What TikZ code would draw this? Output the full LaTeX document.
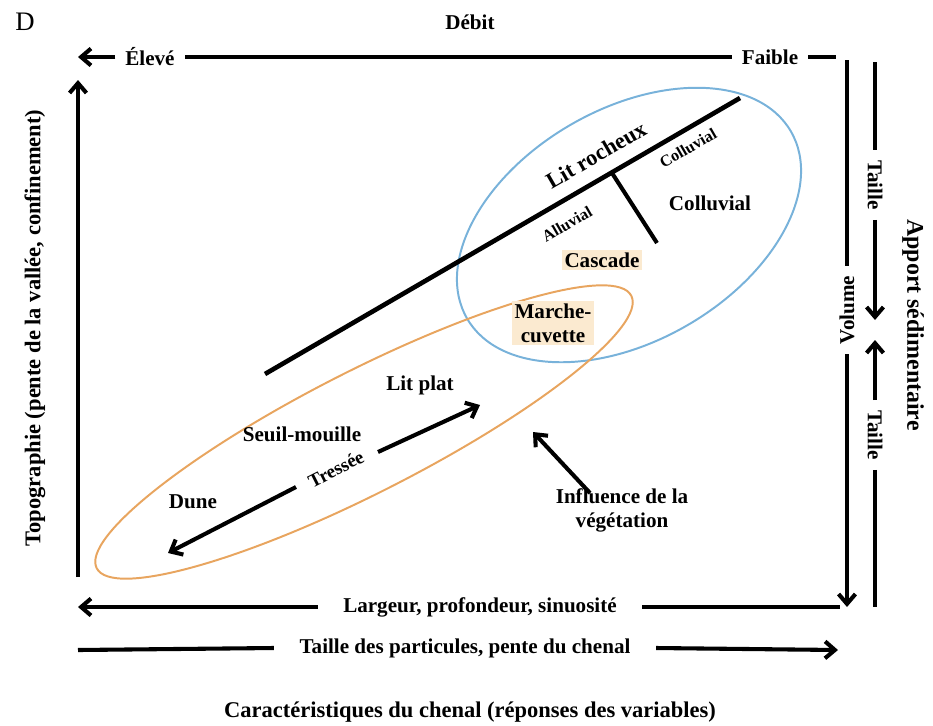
\documentclass[tikz,border=0pt]{standalone}
\usepackage{fontspec}
\setmainfont{Liberation Serif}
\usetikzlibrary{arrows.meta}
\definecolor{bluering}{RGB}{120,178,218}
\definecolor{orangering}{RGB}{232,165,95}
\definecolor{peach}{RGB}{251,234,208}
\begin{document}
\begin{tikzpicture}[
  x=0.025cm, y=-0.025cm,
  >={Straight Barb[length=7pt,width=12pt]},
  bar/.style={draw=black,line width=2.9pt},
  flow/.style={bar,->},
  ring/.style={line width=1.4pt},
  lbl/.style={font=\bfseries\fontsize{15}{17}\selectfont,inner sep=1pt,inner xsep=7pt},
  big/.style={lbl,font=\bfseries\fontsize{16}{18}\selectfont},
  wide/.style={lbl,inner xsep=18pt},
  smalltxt/.style={font=\bfseries\fontsize{11.5}{12}\selectfont,inner sep=0pt},
  tag/.style={lbl,fill=peach,inner sep=2pt}
]
  \useasboundingbox (0,0) rectangle (933,725);

  % titles
  \node[font=\fontsize{19}{21}\selectfont] (panel) at (25,22) {D};
  \node[lbl] (debit) at (470,22) {Débit};
  \node[big] (chenal) at (470,712) {Caractéristiques du chenal (réponses des variables)};
  \node[big,rotate=90] (topo) at (35,328) {Topographie (pente de la vallée, confinement)};
  \node[big,font=\bfseries\fontsize{17}{19}\selectfont,rotate=-90] (apport) at (913,325) {Apport sédimentaire};

  % debit
  \node[lbl] (eleve) at (150,57) {Élevé};
  \node[lbl] (faible) at (770,57) {Faible};
  \coordinate (eleveTip) at (78,57);
  \coordinate (faibleEnd) at (836,57);
  \draw[flow] (eleve.west) -- (eleveTip);
  \draw[bar] (faible.west) -- (eleve.east);
  \draw[bar] (faible.east) -- (faibleEnd);

  % volume and taille
  \node[lbl,rotate=90] (volume) at (847,310) {Volume};
  \coordinate (volTop) at (847,60);
  \coordinate (volTip) at (847,607);
  \draw[bar] (volTop) -- (volume.east);
  \draw[flow] (volume.west) -- (volTip);

  \node[lbl,rotate=-90] (tailleA) at (875,185) {Taille};
  \coordinate (tailleAtop) at (875,62);
  \coordinate (tailleAtip) at (875,320);
  \draw[bar] (tailleAtop) -- (tailleA.west);
  \draw[flow] (tailleA.east) -- (tailleAtip);

  \node[lbl,rotate=-90] (tailleB) at (875,435) {Taille};
  \coordinate (tailleBtip) at (875,340);
  \coordinate (tailleBend) at (875,607);
  \draw[flow] (tailleB.west) -- (tailleBtip);
  \draw[bar] (tailleB.east) -- (tailleBend);

  % channel axes
  \node[wide] (largeur) at (480,607) {Largeur, profondeur, sinuosité};
  \coordinate (largeurTip) at (78,607);
  \coordinate (largeurEnd) at (840,607);
  \draw[flow] (largeur.west) -- (largeurTip);
  \draw[bar] (largeur.east) -- (largeurEnd);

  \node[wide] (particules) at (465,648) {Taille des particules, pente du chenal};
  \coordinate (particulesStart) at (78,650);
  \coordinate (particulesTip) at (838,650);
  \draw[bar] (particulesStart) -- (particules.west);
  \draw[flow] (particules.east) -- (particulesTip);

  \coordinate (topoStart) at (78,577);
  \coordinate (topoTip) at (78,80);
  \draw[flow] (topoStart) -- (topoTip);

  % rings
  \draw[bluering,ring,rotate around={30:(629,225)}] (629,225) ellipse (187 and 116);
  \draw[orangering,ring,rotate around={27:(364,432)}] (364,432) ellipse (300 and 61);

  % lit rocheux
  \coordinate (rockLow) at (265,374);
  \coordinate (rockHigh) at (740,98);
  \coordinate (rockFork) at (612,173);
  \coordinate (rockFoot) at (657,243);
  \draw[bar,line width=3.3pt] (rockLow) -- (rockHigh);
  \draw[bar] (rockFork) -- (rockFoot);

  \node[big,inner xsep=0pt,inner ysep=0pt,rotate=30] (litroc) at (596,155) {Lit rocheux};
  \node[smalltxt,rotate=30] (colluvA) at (688,148) {Colluvial};
  \node[smalltxt,rotate=30] (alluv) at (567,224) {Alluvial};
  \node[lbl] (colluvB) at (710,203) {Colluvial};
  \node[tag] (cascade) at (602,260) {Cascade};
  \node[tag,align=center] (marche) at (553,323) {Marche-\\cuvette};

  % alluvial forms
  \node[lbl] (litplat) at (420,385) {Lit plat};
  \node[lbl] (seuil) at (302,434) {Seuil-mouille};
  \node[lbl,inner xsep=0pt,inner ysep=0pt,font=\bfseries\fontsize{13.5}{15}\selectfont,rotate=27] (tressee) at (336,469) {Tressée};
  \node[lbl] (dune) at (193,502) {Dune};
  \coordinate (braidUp) at (378,452);
  \coordinate (braidUpTip) at (480,405);
  \coordinate (braidDown) at (296,487);
  \coordinate (braidDownTip) at (168,553);
  \draw[flow] (braidUp) -- (braidUpTip);
  \draw[flow] (braidDown) -- (braidDownTip);

  \node[lbl,align=center] (vegetation) at (622,510) {Influence de la\\végétation};
  \coordinate (vegTail) at (590,493);
  \coordinate (vegTip) at (533,432);
  \draw[flow] (vegTail) -- (vegTip);
\end{tikzpicture}
\end{document}
